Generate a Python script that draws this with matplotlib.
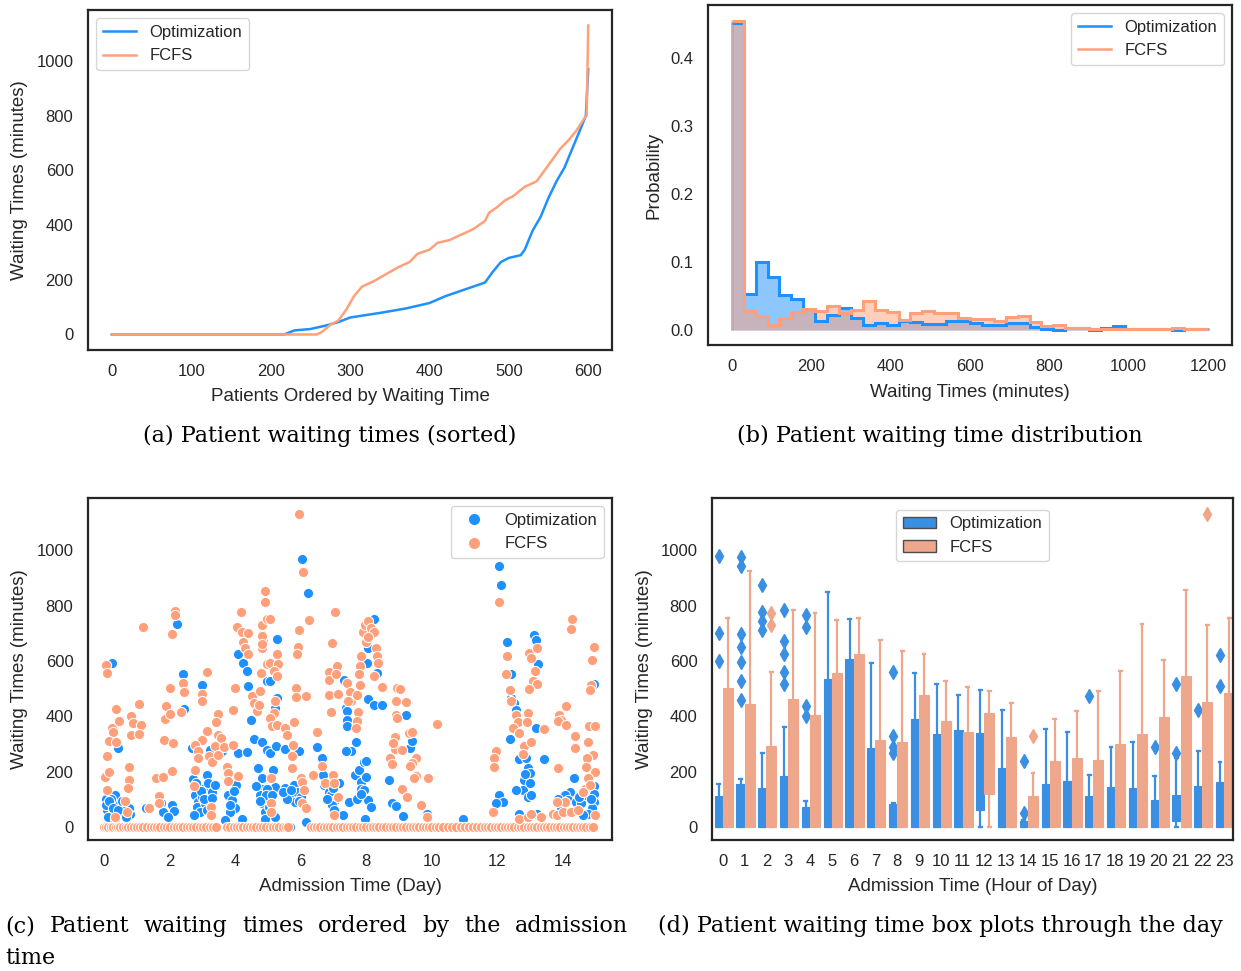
import numpy as np
import matplotlib
matplotlib.use("Agg")
import matplotlib.pyplot as plt
from matplotlib.patches import Patch
from matplotlib.lines import Line2D

BLUE = "#1e90ff"
SALMON = "#ffa07a"
BOX_BLUE = "#3a8fe3"
BOX_SALMON = "#eea78a"

# (a) sorted waiting times, read at key ranks
opt_rank = [0, 217, 230, 250, 270, 285, 300, 340, 370, 400, 420, 450, 470, 480,
            490, 500, 515, 520, 530, 540, 550, 560, 570, 580, 590, 597, 600]
opt_sorted = [0, 0, 15, 20, 33, 45, 62, 80, 95, 115, 140, 170, 190, 230,
              265, 280, 290, 310, 380, 430, 500, 560, 610, 680, 750, 800, 970]
fcfs_rank = [0, 258, 265, 275, 285, 295, 305, 315, 330, 345, 360, 375, 385, 400,
             410, 425, 440, 455, 470, 475, 485, 495, 505, 520, 535, 545, 555,
             565, 575, 585, 595, 598, 600]
fcfs_sorted = [0, 0, 10, 35, 50, 90, 140, 175, 195, 220, 245, 265, 295, 310,
               335, 345, 365, 385, 415, 445, 465, 490, 505, 540, 560, 600, 640,
               680, 710, 745, 790, 800, 1130]

# (b) histogram, bins of 30 minutes from 0 to 1200
bin_edges = [0, 30, 60, 90, 120, 150, 180, 210, 240, 270, 300, 330, 360, 390,
             420, 450, 480, 510, 540, 570, 600, 630, 660, 690, 720, 750, 780,
             810, 840, 870, 900, 930, 960, 990, 1020, 1050, 1080, 1110, 1140,
             1170, 1200]
opt_prob = [0.452, 0.052, 0.099, 0.077, 0.051, 0.045, 0.030, 0.013, 0.022, 0.032,
            0.017, 0.006, 0.010, 0.007, 0.012, 0.011, 0.008, 0.008, 0.012, 0.012,
            0.010, 0.007, 0.007, 0.009, 0.009, 0.004, 0.001, 0.000, 0.002, 0.002,
            0.000, 0.002, 0.005, 0.001, 0.001, 0.001, 0.001, 0.000, 0.001, 0.001]
fcfs_prob = [0.455, 0.028, 0.020, 0.007, 0.017, 0.026, 0.030, 0.028, 0.035, 0.024,
             0.029, 0.042, 0.029, 0.026, 0.014, 0.024, 0.028, 0.024, 0.024, 0.017,
             0.015, 0.015, 0.012, 0.019, 0.020, 0.011, 0.005, 0.006, 0.002, 0.002,
             0.001, 0.001, 0.001, 0.001, 0.001, 0.001, 0.001, 0.002, 0.001, 0.001]

# (c) waiting time vs admission day
opt_day = [0.25, 0.43, 0.07, 0.17, 0.33, 0.38, 0.10, 0.27, 0.48, 0.12, 0.33, 0.63, 0.79, 0.75,
           0.05, 0.20, 0.55, 1.29, 1.75, 1.80, 2.06, 2.12, 1.96, 2.23, 2.42, 2.45, 2.98, 2.67,
           2.70, 2.77, 2.87, 3.02, 3.13, 3.18, 2.98, 2.83, 3.08, 3.28, 2.93, 3.23, 3.38, 2.75,
           3.23, 3.59, 3.79, 3.91, 3.99, 3.84, 4.04, 3.69, 4.20, 4.10, 4.37, 4.08, 4.25, 4.35,
           4.40, 4.48, 4.56, 4.83, 4.71, 4.81, 4.86, 4.76, 4.81, 4.91, 4.97, 4.97,
           6.05, 6.23, 5.28, 5.28, 5.23, 5.06, 5.07, 5.26, 5.53, 5.94, 6.50, 6.66, 5.15, 5.23,
           4.97, 4.95, 5.02, 5.13, 5.53, 5.64, 5.74, 5.79, 5.84, 5.59, 5.89, 6.00, 5.23, 4.92,
           6.15, 6.69, 6.71, 6.86, 6.91, 7.06, 7.17, 6.96, 7.03, 7.30, 7.47, 7.33, 7.37, 7.42,
           7.40, 7.40, 7.68, 7.53, 7.37, 7.65, 7.78, 7.83, 7.83, 7.93, 7.73, 8.05, 8.13, 7.93,
           7.98, 8.25, 8.05, 8.03, 8.34, 8.05, 8.24, 8.49, 9.20, 8.69, 8.80, 8.90, 9.13, 9.34,
           9.41, 9.85, 9.85, 7.95,
           12.06, 12.11, 12.29, 12.42, 12.42, 12.52, 12.57, 12.57, 12.40, 13.11, 13.18, 13.03,
           13.23, 13.18, 13.42, 12.67, 12.88, 12.93, 13.01, 12.82, 12.77, 12.57, 12.93, 13.03,
           12.65, 12.93, 13.21, 12.06, 12.16, 11.96, 10.94, 14.33, 14.23, 14.05, 14.15, 13.94,
           13.84, 14.40, 14.56, 14.71, 14.96, 14.96, 14.96, 14.89, 14.76, 14.61, 14.96,
           0.15, 0.28, 0.42, 0.55, 0.68, 2.80, 2.95, 3.05, 3.15, 3.30, 3.85, 3.95, 4.65, 4.75,
           5.45, 5.70, 5.95, 6.80, 7.00, 7.85, 8.00, 13.00, 12.85, 14.50, 14.85]
opt_wait = [594, 285, 103, 85, 115, 82, 61, 55, 48, 36, 30, 61, 48, 69,
            80, 100, 70, 69, 85, 55, 79, 58, 36, 733, 552, 428, 512, 287,
            173, 115, 91, 139, 188, 158, 109, 73, 85, 127, 55, 85, 152, 42,
            279, 275, 115, 97, 69, 55, 152, 24, 30, 267, 270, 627, 594, 564,
            509, 388, 319, 309, 212, 176, 139, 115, 85, 55, 527, 279,
            970, 845, 679, 467, 430, 527, 267, 291, 282, 275, 288, 248, 206, 145,
            139, 115, 73, 115, 140, 118, 115, 152, 91, 103, 127, 110, 36, 30,
            18, 188, 152, 127, 115, 97, 158, 79, 61, 42, 91, 533, 430, 418,
            388, 364, 309, 273, 276, 188, 206, 164, 139, 133, 103, 97, 73, 236,
            239, 752, 648, 594, 558, 461, 442, 440, 406, 170, 85, 76, 40, 285,
            312, 48, 36, 30,
            942, 873, 670, 554, 467, 448, 424, 406, 319, 695, 676, 606,
            588, 358, 245, 245, 248, 212, 194, 170, 133, 133, 109, 115,
            46, 36, 48, 115, 91, 85, 30, 176, 127, 115, 97, 73,
            103, 91, 85, 115, 148, 121, 91, 67, 48, 42, 518,
            95, 70, 60, 95, 35, 160, 130, 100, 60, 105, 80, 130, 150, 95,
            125, 135, 95, 100, 140, 120, 180, 160, 190, 110, 100]
fcfs_day = [0.07, 0.10, 0.09, 0.02, 0.15, 0.10, 0.24, 0.27, 0.14, 0.35, 0.35, 0.45, 0.63, 0.71,
            0.76, 0.75, 0.72, 0.82, 0.87, 0.82, 1.07, 1.14, 1.07, 1.20, 1.37, 1.57, 1.80, 1.68,
            1.68, 1.83, 2.11, 1.87, 1.88, 2.02, 2.02, 2.06, 2.16, 2.18, 2.06, 2.34, 2.42, 2.45,
            3.13, 2.98, 2.98, 3.13, 2.98, 2.79, 2.86, 2.88, 2.77, 2.75, 3.49, 3.43, 3.47, 3.57,
            3.38, 3.20, 3.30, 3.49, 3.67, 3.74, 3.79, 3.94, 4.10, 3.77, 3.26, 3.25, 3.92, 3.99,
            4.05, 4.18, 4.20, 4.23, 4.30, 4.38, 4.38, 4.50, 4.56, 4.66, 4.73, 4.76, 4.79, 4.81,
            4.81, 4.83, 4.86, 4.91, 4.91, 4.96, 4.96, 0.33,
            5.94, 6.07, 6.25, 5.96, 5.92, 5.89, 5.86, 5.86, 6.17, 5.06, 4.82, 4.82, 5.28, 5.06,
            5.30, 5.18, 5.28, 5.23, 5.18, 5.07, 5.13, 5.28, 5.53, 5.59, 5.79, 5.77, 5.74, 5.74,
            6.50, 6.66, 6.38, 6.73, 6.00, 6.05, 6.10, 6.05, 6.15, 5.10, 5.08, 5.10, 7.06, 6.96,
            6.86, 6.86, 7.10, 7.09, 6.86, 7.13, 6.91, 7.42, 7.50, 7.54, 7.44, 7.81, 7.78, 7.81,
            7.71, 7.75, 7.73, 7.68, 7.83, 7.91, 7.95, 8.05, 7.98, 8.13, 8.24, 8.05, 8.29, 8.34,
            8.36, 8.24, 8.49, 8.90, 9.20, 8.95, 9.03, 8.90, 8.93, 8.87, 8.87, 8.83, 9.10, 9.30,
            9.41, 8.71, 8.78, 9.51, 9.41, 9.34, 9.51, 9.46, 10.15, 9.87, 9.10, 9.25, 9.66, 9.84,
            6.99, 7.02, 7.13, 7.02,
            12.06, 12.29, 12.26, 12.40, 12.42, 11.96, 11.91, 11.91, 11.86, 12.57, 12.64, 12.49,
            12.93, 12.91, 12.67, 12.82, 12.77, 13.03, 13.42, 12.98, 13.03, 13.15, 13.21, 13.08,
            13.21, 12.98, 13.84, 13.89, 13.94, 14.10, 13.84, 14.10, 14.38, 14.37, 14.27, 14.25,
            14.94, 14.89, 14.86, 14.84, 14.81, 14.98, 14.78, 14.91, 14.74, 14.97, 14.71, 14.78,
            14.68, 14.84, 14.97, 13.34, 13.69, 13.82, 13.99, 14.05, 14.25, 14.45, 14.61, 13.82,
            12.67, 12.93, 13.03]
fcfs_wait = [584, 558, 255, 182, 198, 132, 358, 343, 312, 307, 428, 382, 93, 55,
             218, 170, 142, 400, 376, 333, 445, 367, 336, 724, 67, 178, 179, 112,
             85, 314, 305, 391, 439, 410, 503, 202, 782, 767, 697, 416, 522, 488,
             560, 481, 457, 348, 316, 297, 275, 248, 206, 149, 408, 379, 333, 321,
             291, 255, 236, 261, 288, 216, 194, 297, 185, 166, 73, 45, 423, 503,
             724, 776, 703, 669, 648, 627, 700, 475, 448, 418, 442, 491, 558, 648,
             731, 693, 673, 852, 812, 751, 588, 36,
             1130, 921, 748, 713, 652, 624, 503, 470, 475, 752, 691, 661, 624, 594,
             588, 564, 545, 455, 412, 394, 364, 370, 358, 333, 378, 297, 255, 212,
             345, 222, 188, 158, 176, 164, 133, 85, 70, 178, 85, 55, 776, 664,
             561, 533, 582, 554, 476, 481, 416, 521, 488, 457, 457, 582, 552, 513,
             476, 416, 382, 358, 618, 703, 731, 745, 667, 721, 703, 685, 648, 618,
             594, 545, 505, 455, 452, 503, 497, 406, 394, 327, 282, 303, 279, 339,
             343, 251, 227, 248, 230, 221, 184, 178, 372, 178, 139, 109, 79, 36,
             188, 158, 109, 42,
             815, 618, 552, 495, 455, 275, 248, 218, 55, 406, 379, 358,
             412, 379, 340, 294, 264, 309, 354, 630, 612, 564, 648, 527,
             518, 497, 212, 406, 388, 436, 382, 370, 330, 285, 752, 715,
             652, 603, 513, 494, 364, 364, 309, 261, 248, 200, 218, 176,
             139, 152, 42, 36, 48, 45, 55, 91, 55, 61, 127, 91,
             30, 36, 48]
# patients who did not wait at all (drawn on the zero line)
opt_zero_day = [0.05, 0.4, 0.9, 1.5, 2.0, 2.6, 3.1, 3.9, 4.5, 5.0, 5.67, 6.6, 7.2, 7.9,
                8.6, 9.3, 10.0, 10.6, 11.02, 11.4, 12.3, 13.0, 13.6, 14.2, 14.8]
fcfs_zero_day = [0.00, 0.06, 0.12, 0.20, 0.27, 0.35, 0.42, 0.50, 0.58, 0.66, 0.74, 0.83,
                 0.92, 1.00, 1.10, 1.20, 1.30, 1.42, 1.52, 1.62, 1.72, 1.82, 1.92, 2.02,
                 2.12, 2.22, 2.32, 2.42, 2.52, 2.62, 2.72, 2.82, 2.92, 3.02, 3.12, 3.22,
                 3.32, 3.42, 3.75, 3.85, 3.95, 4.05, 4.15, 4.25, 4.35, 4.45, 4.55, 4.65,
                 4.75, 4.85, 4.95, 5.05, 5.15, 5.25, 5.35, 5.45, 5.55, 5.62, 6.30, 6.40,
                 6.50, 6.60, 6.70, 6.80, 6.90, 7.00, 7.10, 7.20, 7.30, 7.40, 7.50, 7.60,
                 7.70, 7.80, 7.90, 8.00, 8.10, 8.20, 8.30, 8.40, 8.50, 8.60, 8.72, 8.82,
                 8.92, 9.02, 9.12, 9.22, 9.32, 9.42, 9.52, 9.62, 9.72, 9.82, 9.92, 10.02,
                 10.12, 10.22, 10.35, 10.50, 10.62, 10.75, 10.88, 11.00, 11.12, 11.25,
                 11.38, 11.50, 11.62, 11.72, 11.82, 11.92, 12.02, 12.12, 12.22, 12.32,
                 12.42, 12.52, 12.62, 12.72, 12.82, 12.92, 13.02, 13.12, 13.22, 13.32,
                 13.42, 13.52, 13.62, 13.72, 13.82, 13.92, 14.02, 14.12, 14.22, 14.32,
                 14.42, 14.52, 14.62, 14.72, 14.82, 14.92]

# (d) box plot summaries per admission hour
hours = list(range(24))
opt_q1 = [0, 0, 0, 0, 0, 0, 0, 0, 0, 0, 0, 0, 61, 0, 0, 0, 0, 0, 0, 0, 0, 22, 0, 0]
opt_med = [65, 83, 56, 65, 10, 134, 65, 117, 6, 272, 48, 44, 266, 40, 8, 10, 22, 16, 65, 65, 4, 67, 67, 83]
opt_q3 = [113, 155, 141, 185, 72, 534, 607, 287, 83, 390, 337, 349, 341, 213, 22, 154, 168, 112, 144, 140, 96, 117, 148, 161]
opt_lo = [0] * 24
opt_hi = [154, 174, 266, 360, 93, 848, 751, 594, 85, 555, 516, 477, 495, 424, 25, 354, 343, 187, 290, 309, 184, 248, 274, 235]
opt_fliers = {0: [979, 700, 599], 1: [976, 945, 696, 650, 595, 528, 459],
              2: [876, 778, 744, 713], 3: [784, 674, 626, 559, 518],
              4: [768, 723, 437, 402], 8: [559, 330, 290, 268], 14: [239, 49],
              17: [472], 20: [290], 21: [516, 268], 22: [422], 23: [620, 510]}
fcfs_q1 = [0, 0, 0, 0, 0, 0, 0, 0, 0, 0, 0, 0, 120, 0, 0, 0, 0, 0, 0, 0, 0, 0, 0, 0]
fcfs_med = [210, 160, 90, 190, 150, 300, 330, 120, 100, 280, 180, 160, 260, 130, 30, 80, 90, 70, 110, 120, 150, 260, 180, 220]
fcfs_q3 = [501, 446, 294, 461, 405, 557, 626, 315, 309, 477, 384, 345, 411, 327, 111, 238, 251, 241, 300, 337, 398, 544, 452, 484]
fcfs_lo = [0] * 24
fcfs_hi = [754, 924, 559, 784, 772, 748, 756, 676, 637, 627, 526, 506, 491, 449, 196, 390, 418, 491, 563, 733, 602, 857, 729, 756]
fcfs_fliers = {2: [774, 729], 14: [330], 22: [1132]}

plt.rcParams.update({
    "font.family": ["Liberation Sans", "DejaVu Sans"],
    "text.color": ".15", "axes.labelcolor": ".15",
    "xtick.color": ".15", "ytick.color": ".15",
    "axes.edgecolor": ".15", "axes.linewidth": 1.6,
    "xtick.major.size": 0, "ytick.major.size": 0,
    "xtick.major.pad": 10, "ytick.major.pad": 10.5,
    "xtick.labelsize": 12, "ytick.labelsize": 12, "axes.labelsize": 13.5,
    "legend.fontsize": 12, "legend.edgecolor": "0.8", "legend.framealpha": 0.8,
})

fig = plt.figure(figsize=(12.41, 9.71), dpi=100)
ax_a = fig.add_axes([0.0709, 0.6396, 0.4223, 0.3501])
ax_b = fig.add_axes([0.5705, 0.6447, 0.4222, 0.3502])
ax_c = fig.add_axes([0.0709, 0.1349, 0.4223, 0.3522])
ax_d = fig.add_axes([0.5737, 0.1349, 0.4198, 0.3522])

# (a)
ax_a.plot(opt_rank, opt_sorted, color=BLUE, lw=1.8, label="Optimization")
ax_a.plot(fcfs_rank, fcfs_sorted, color=SALMON, lw=1.8, label="FCFS")
ax_a.set_xlim(-30, 630)
ax_a.set_ylim(-56.5, 1186.5)
ax_a.set_xticks([0, 100, 200, 300, 400, 500, 600])
ax_a.set_yticks([0, 200, 400, 600, 800, 1000])
ax_a.set_xlabel("Patients Ordered by Waiting Time")
ax_a.set_ylabel("Waiting Times (minutes)")
ax_a.legend(loc="upper left")

# (b) fills first, outlines on top
ax_b.stairs(opt_prob, bin_edges, fill=True, facecolor=BLUE, edgecolor=BLUE, alpha=0.5, lw=2)
ax_b.stairs(fcfs_prob, bin_edges, fill=True, facecolor=SALMON, edgecolor=SALMON, alpha=0.5, lw=2)
ax_b.stairs(opt_prob, bin_edges, baseline=None, color=BLUE, lw=2.2)
ax_b.stairs(fcfs_prob, bin_edges, baseline=None, color=SALMON, lw=2.2)
ax_b.set_xlim(-60, 1260)
ax_b.set_ylim(-0.0228, 0.478)
ax_b.set_xticks([0, 200, 400, 600, 800, 1000, 1200])
ax_b.set_yticks([0.0, 0.1, 0.2, 0.3, 0.4])
ax_b.set_yticklabels(["0.0", "0.1", "0.2", "0.3", "0.4"])
ax_b.set_xlabel("Waiting Times (minutes)")
ax_b.set_ylabel("Probability")
ax_b.legend(handles=[Line2D([], [], color=BLUE, lw=1.8), Line2D([], [], color=SALMON, lw=1.8)],
            labels=["Optimization", "FCFS"], loc="upper right")

# (c)
sc_kw = dict(s=54, edgecolors="white", linewidths=0.75)
ax_c.scatter(opt_zero_day, [0] * len(opt_zero_day), color=BLUE, **sc_kw)
ax_c.scatter(opt_day, opt_wait, color=BLUE, **sc_kw)
ax_c.scatter(fcfs_zero_day, [0] * len(fcfs_zero_day), color=SALMON, **sc_kw)
ax_c.scatter(fcfs_day, fcfs_wait, color=SALMON, **sc_kw)
ax_c.set_xlim(-0.49, 15.5)
ax_c.set_ylim(-47, 1189)
ax_c.set_xticks([0, 2, 4, 6, 8, 10, 12, 14])
ax_c.set_yticks([0, 200, 400, 600, 800, 1000])
ax_c.set_xlabel("Admission Time (Day)")
ax_c.set_ylabel("Waiting Times (minutes)")
ax_c.legend(handles=[Line2D([], [], ls="", marker="o", ms=9, color=BLUE, mec="white"),
                     Line2D([], [], ls="", marker="o", ms=9, color=SALMON, mec="white")],
            labels=["Optimization", "FCFS"], loc="upper right")


def box_stats(q1, med, q3, lo, hi, fliers):
    stats = []
    for h in hours:
        stats.append(dict(q1=q1[h], med=med[h], q3=q3[h], whislo=lo[h], whishi=hi[h],
                          fliers=fliers.get(h, [])))
    return stats


def draw_boxes(ax, stats, pos, width, color):
    ax.bxp(stats, positions=pos, widths=width, capwidths=0.13, patch_artist=True,
           manage_ticks=False,
           boxprops=dict(facecolor=color, edgecolor=color, lw=0.8),
           whiskerprops=dict(color=color, lw=1.6),
           capprops=dict(color=color, lw=1.6),
           medianprops=dict(color=color, lw=1.2),
           flierprops=dict(marker="d", markerfacecolor=color, markeredgecolor=color,
                           markersize=7))


draw_boxes(ax_d, box_stats(opt_q1, opt_med, opt_q3, opt_lo, opt_hi, opt_fliers),
           [h - 0.19 for h in hours], 0.38, BOX_BLUE)
draw_boxes(ax_d, box_stats(fcfs_q1, fcfs_med, fcfs_q3, fcfs_lo, fcfs_hi, fcfs_fliers),
           [h + 0.23 for h in hours], 0.46, BOX_SALMON)
ax_d.set_xlim(-0.5, 23.4)
ax_d.set_ylim(-47, 1189)
ax_d.set_xticks(hours)
ax_d.set_xticklabels([str(h) for h in hours])
ax_d.set_yticks([0, 200, 400, 600, 800, 1000])
ax_d.set_xlabel("Admission Time (Hour of Day)")
ax_d.set_ylabel("Waiting Times (minutes)")
ax_d.legend(handles=[Patch(facecolor=BOX_BLUE, edgecolor=".3"),
                     Patch(facecolor=BOX_SALMON, edgecolor=".3")],
            labels=["Optimization", "FCFS"], loc="upper center",
            bbox_to_anchor=(0.5, 0.99))

# label positions
ax_a.xaxis.set_label_coords(0.5, -0.112)
ax_b.xaxis.set_label_coords(0.5, -0.115)
ax_c.xaxis.set_label_coords(0.5, -0.111)
ax_d.xaxis.set_label_coords(0.5, -0.111)
ax_a.yaxis.set_label_coords(-0.114, 0.5)
ax_b.yaxis.set_label_coords(-0.087, 0.5)
ax_c.yaxis.set_label_coords(-0.114, 0.5)
ax_d.yaxis.set_label_coords(-0.114, 0.5)

# captions
cap_kw = dict(family="DejaVu Serif", fontsize=16, color="black", va="center")
fig.text(0.2659, 0.551, "(a) Patient waiting times (sorted)", ha="center", **cap_kw)
fig.text(0.7575, 0.551, "(b) Patient waiting time distribution", ha="center", **cap_kw)
fig.text(0.758, 0.0463, "(d) Patient waiting time box plots through the day", ha="center", **cap_kw)

# caption (c) is justified over the left column
renderer = fig.canvas.get_renderer()
words = "(c) Patient waiting times ordered by the admission".split()
x_left, x_right = 5 / 1241, 628 / 1241
w_objs = [fig.text(0, 0.0463, w, ha="left", **cap_kw) for w in words]
widths = [t.get_window_extent(renderer).width / fig.bbox.width for t in w_objs]
gap = (x_right - x_left - sum(widths)) / (len(words) - 1)
x = x_left
for t, w in zip(w_objs, widths):
    t.set_x(x)
    x += w + gap
fig.text(x_left, 0.0134, "time", ha="left", **cap_kw)

fig.savefig("out.png", dpi=100)
